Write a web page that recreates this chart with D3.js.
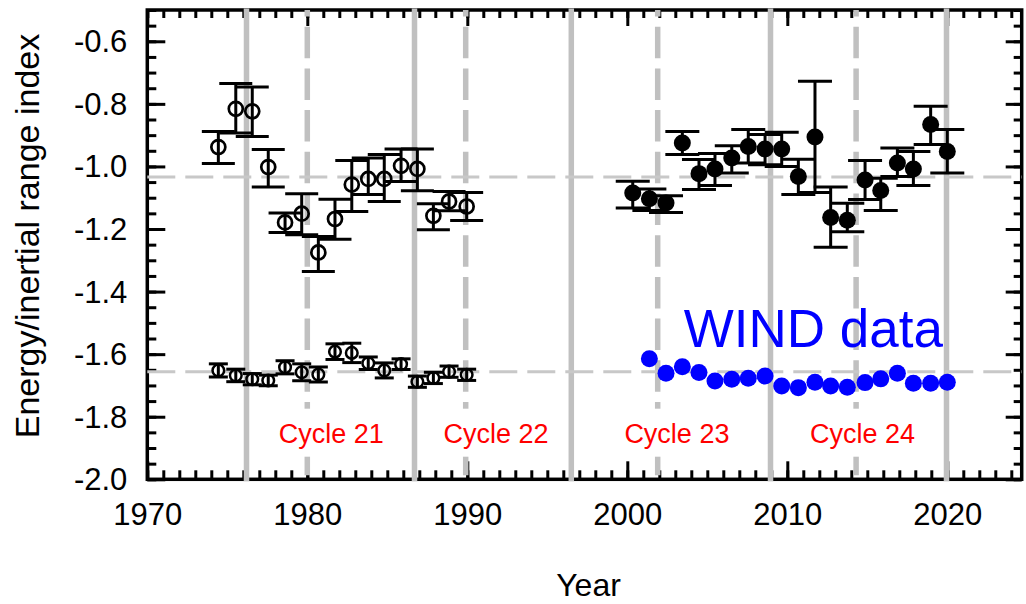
<!DOCTYPE html>
<html>
<head>
<meta charset="utf-8">
<script src="https://cdn.jsdelivr.net/npm/d3@7"></script>
<style>
  body { margin: 0; background: #fff; }
  text { font-family: "Liberation Sans", Arial, sans-serif; }
</style>
</head>
<body>
<div id="chart"></div>
<script>
// early period (open circles), two index values per year
var earlyYears = [1974.44, 1975.53, 1976.56, 1977.56, 1978.61, 1979.65, 1980.69, 1981.73,
                  1982.78, 1983.81, 1984.81, 1985.86, 1986.88, 1987.88, 1988.86, 1989.96];
var earlyUpper   = [-0.938, -0.816, -0.824, -1.002, -1.179, -1.151, -1.275, -1.168,
                    -1.058, -1.040, -1.040, -0.998, -1.008, -1.158, -1.112, -1.128];
var earlyUpperHi = [-0.888, -0.735, -0.746, -0.946, -1.149, -1.087, -1.224, -1.105,
                    -0.981, -0.973, -0.962, -0.944, -0.944, -1.119, -1.080, -1.083];
var earlyUpperLo = [-0.991, -0.893, -0.904, -1.066, -1.211, -1.218, -1.336, -1.233,
                    -1.144, -1.090, -1.112, -1.048, -1.078, -1.202, -1.142, -1.173];
var earlyLower    = [-1.652, -1.668, -1.680, -1.684, -1.642, -1.658, -1.665, -1.592,
                     -1.596, -1.629, -1.652, -1.632, -1.688, -1.676, -1.656, -1.666];
var earlyLowerErr = [0.021, 0.020, 0.018, 0.017, 0.021, 0.027, 0.024, 0.025,
                     0.031, 0.020, 0.024, 0.017, 0.018, 0.018, 0.018, 0.018];

// recent period (filled circles)
var lateYears = [2000.34, 2001.38, 2002.42, 2003.44, 2004.48, 2005.48, 2006.53, 2007.56, 2008.61, 2009.65,
                 2010.69, 2011.73, 2012.71, 2013.75, 2014.86, 2015.84, 2016.88, 2017.88, 2018.96, 2020.00];
var lateVals = [-1.085, -1.103, -1.117, -0.925, -1.023, -1.008, -0.973, -0.936, -0.944, -0.944,
                -1.032, -0.906, -1.163, -1.172, -1.043, -1.077, -0.989, -1.008, -0.866, -0.952];
var lateHi   = [-1.047, -1.072, -1.094, -0.888, -0.978, -0.959, -0.934, -0.882, -0.898, -0.891,
                -0.977, -0.728, -1.066, -1.118, -0.981, -1.038, -0.941, -0.952, -0.808, -0.882];
var lateLo   = [-1.133, -1.141, -1.147, -0.962, -1.074, -1.061, -1.021, -0.989, -0.995, -1.000,
                -1.090, -1.083, -1.258, -1.209, -1.106, -1.141, -1.032, -1.061, -0.930, -1.021];

// WIND data (blue)
var windYears = [2001.38, 2002.42, 2003.44, 2004.48, 2005.48, 2006.53, 2007.56, 2008.61, 2009.65, 2010.69,
                 2011.73, 2012.71, 2013.75, 2014.86, 2015.84, 2016.88, 2017.88, 2018.96, 2020.00];
var windVals  = [-1.615, -1.661, -1.640, -1.659, -1.686, -1.680, -1.677, -1.670, -1.702, -1.707,
                 -1.690, -1.702, -1.706, -1.691, -1.679, -1.661, -1.693, -1.693, -1.690];

// solar cycle minima (solid) and maxima (dashed), mean levels
var cycleMin = [1976.2, 1986.7, 1996.5, 2008.95, 2019.95];
var cycleMax = [1980.0, 1989.9, 2001.9, 2014.3];
var meanLevels = [-1.034, -1.656];
var cycleNames = ["Cycle 21", "Cycle 22", "Cycle 23", "Cycle 24"];
var cycleNameYears = [1981.5, 1991.8, 2003.1, 2014.7];

var xMajor = [1970, 1980, 1990, 2000, 2010, 2020];
var yMajor = [-2.0, -1.8, -1.6, -1.4, -1.2, -1.0, -0.8, -0.6];

var w = 1026, h = 604;
var margin = {top: 10, right: 4.3, bottom: 124.7, left: 147.3};

var x = d3.scaleLinear().domain([1970, 2024.65]).range([margin.left, w - margin.right]);
var y = d3.scaleLinear().domain([-2.0, -0.5]).range([h - margin.bottom, margin.top]);

var svg = d3.select("#chart").append("svg")
    .attr("width", w)
    .attr("height", h);

var xMinor = d3.range(1970, 2025, 1);
var yMinor = d3.range(0, 31).map(function(i) { return -2.0 + i * 0.05; });
var fmt = function(d) { return d.toFixed(1); };

// axes, ticks point inwards
function addAxis(axis, tx, ty) {
  var g = svg.append("g").attr("transform", "translate(" + tx + "," + ty + ")").call(axis);
  g.select(".domain").remove();
  g.selectAll(".tick line").attr("stroke", "#000").attr("stroke-width", 3);
  g.selectAll(".tick text").attr("fill", "#000").attr("font-size", 31)
    .style("font-family", "'Liberation Sans', Arial, sans-serif");
  return g;
}
var yb = y(-2.0), yt = y(-0.5), xl = x(1970), xr = x(2024.65);

addAxis(d3.axisBottom(x).tickValues(xMinor).tickSize(-9).tickFormat(""), 0, yb);
addAxis(d3.axisBottom(x).tickValues(xMajor).tickSize(-18).tickPadding(24).tickFormat(d3.format("d")), 0, yb);
addAxis(d3.axisTop(x).tickValues(xMinor).tickSize(-8).tickFormat(""), 0, yt);
addAxis(d3.axisTop(x).tickValues(xMajor).tickSize(-16).tickFormat(""), 0, yt);
addAxis(d3.axisLeft(y).tickValues(yMinor).tickSize(-9).tickFormat(""), xl, 0);
addAxis(d3.axisLeft(y).tickValues(yMajor).tickSize(-18).tickPadding(20).tickFormat(fmt), xl, 0)
  .selectAll(".tick text").attr("dy", "0.34em");
addAxis(d3.axisRight(y).tickValues(yMinor).tickSize(-8).tickFormat(""), xr, 0);
addAxis(d3.axisRight(y).tickValues(yMajor).tickSize(-16).tickFormat(""), xr, 0);

svg.append("rect")
  .attr("x", xl).attr("y", yt)
  .attr("width", xr - xl).attr("height", yb - yt)
  .attr("fill", "none").attr("stroke", "#000").attr("stroke-width", 3.5);

// gray reference lines (drawn over the frame, under the data)
svg.selectAll(".vmin").data(cycleMin).enter().append("line")
  .attr("x1", function(d) { return x(d); }).attr("x2", function(d) { return x(d); })
  .attr("y1", yt - 1.5).attr("y2", yb + 2)
  .attr("stroke", "#c0c0c0").attr("stroke-width", 5.5);

svg.selectAll(".vmax").data(cycleMax).enter().append("line")
  .attr("x1", function(d) { return x(d); }).attr("x2", function(d) { return x(d); })
  .attr("y1", yt).attr("y2", yb + 2)
  .attr("stroke", "#c0c0c0").attr("stroke-width", 5.5)
  .attr("stroke-dasharray", "31.5,10.2").attr("stroke-dashoffset", 25);

svg.selectAll(".hmean").data(meanLevels).enter().append("line")
  .attr("x1", xl).attr("x2", xr)
  .attr("y1", function(d) { return y(d); }).attr("y2", function(d) { return y(d); })
  .attr("stroke", "#c8c8c8").attr("stroke-width", 3)
  .attr("stroke-dasharray", "28,10");

// cycle labels on white boxes
var labs = svg.selectAll(".cyc").data(cycleNames).enter().append("g");
labs.append("text")
  .attr("x", function(d, i) { return x(cycleNameYears[i]); })
  .attr("y", y(-1.883))
  .attr("text-anchor", "middle")
  .attr("font-size", 27)
  .attr("fill", "#ff0000")
  .text(function(d) { return d; });
labs.each(function() {
  var g = d3.select(this);
  var b = g.select("text").node().getBBox();
  g.insert("rect", "text")
    .attr("x", b.x - 3).attr("y", b.y - 10)
    .attr("width", b.width + 6).attr("height", b.height + 18)
    .attr("fill", "#fff");
});

// error bars
function errorBars(xs, lo, hi, half) {
  var g = svg.append("g").attr("stroke", "#000").attr("stroke-width", 3);
  xs.forEach(function(d, i) {
    g.append("line").attr("x1", x(d)).attr("x2", x(d)).attr("y1", y(lo[i])).attr("y2", y(hi[i]));
    g.append("line").attr("x1", x(d) - half).attr("x2", x(d) + half).attr("y1", y(lo[i])).attr("y2", y(lo[i]));
    g.append("line").attr("x1", x(d) - half).attr("x2", x(d) + half).attr("y1", y(hi[i])).attr("y2", y(hi[i]));
  });
}

errorBars(earlyYears, earlyUpperLo, earlyUpperHi, 16.5);
errorBars(earlyYears,
  earlyLower.map(function(d, i) { return d - earlyLowerErr[i]; }),
  earlyLower.map(function(d, i) { return d + earlyLowerErr[i]; }), 9.5);
errorBars(lateYears, lateLo, lateHi, 17);

svg.append("g").selectAll("circle").data(earlyUpper).enter().append("circle")
  .attr("cx", function(d, i) { return x(earlyYears[i]); })
  .attr("cy", function(d) { return y(d); })
  .attr("r", 7)
  .attr("fill", "none").attr("stroke", "#000").attr("stroke-width", 2.7);

svg.append("g").selectAll("circle").data(earlyLower).enter().append("circle")
  .attr("cx", function(d, i) { return x(earlyYears[i]); })
  .attr("cy", function(d) { return y(d); })
  .attr("r", 5.8)
  .attr("fill", "none").attr("stroke", "#000").attr("stroke-width", 2.5);

svg.append("g").selectAll("circle").data(lateVals).enter().append("circle")
  .attr("cx", function(d, i) { return x(lateYears[i]); })
  .attr("cy", function(d) { return y(d); })
  .attr("r", 8.5)
  .attr("fill", "#000");

svg.append("g").selectAll("circle").data(windVals).enter().append("circle")
  .attr("cx", function(d, i) { return x(windYears[i]); })
  .attr("cy", function(d) { return y(d); })
  .attr("r", 8.5)
  .attr("fill", "#0000ff");

svg.append("text")
  .attr("x", x(2011.63)).attr("y", y(-1.576))
  .attr("text-anchor", "middle")
  .attr("font-size", 53)
  .attr("fill", "#0000ff")
  .text("WIND data");

// axis titles
svg.append("text")
  .attr("x", (xl + xr) / 2 + 4).attr("y", 596)
  .attr("text-anchor", "middle")
  .attr("font-size", 32)
  .text("Year");

svg.append("text")
  .attr("transform", "translate(38.5,236) rotate(-90)")
  .attr("text-anchor", "middle")
  .attr("font-size", 34)
  .text("Energy/inertial range index");
</script>
</body>
</html>
